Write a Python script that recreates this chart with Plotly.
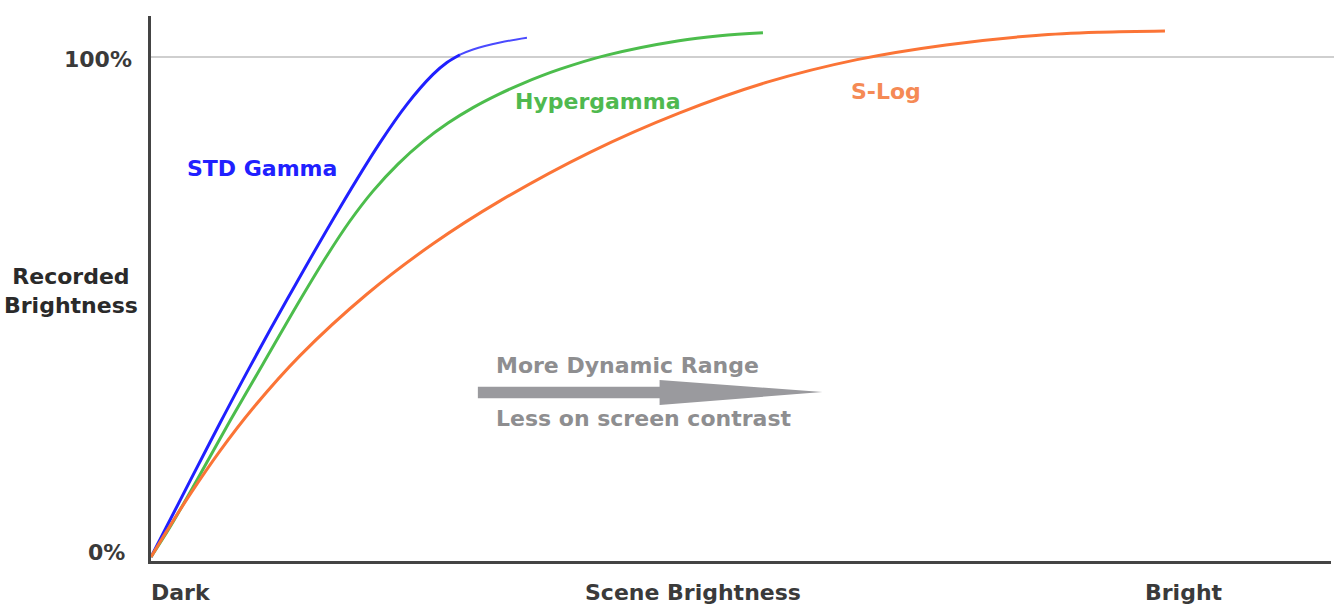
import plotly.graph_objects as go

# Scene brightness (0 = Dark, 100 = right end of axis) and recorded brightness (%)
std_x = [0, 1.36, 3.31, 5.85, 8.39, 11.53, 16.02, 19.41, 21.69, 23.90, 25.08, 26.19, 27.29, 29.58, 31.86]
std_y = [0, 6.24, 15.22, 26.8, 38.08, 51.48, 69.92, 82.88, 90.54, 96.52, 98.9, 100.46, 101.5, 102.9, 103.84]

hyper_x = [0, 1.61, 3.90, 6.69, 9.49, 12.63, 14.92, 16.86, 18.81, 20.93, 23.05, 25.17, 27.29,
           29.41, 31.53, 34.66, 38.64, 44.75, 48.22, 51.86]
hyper_y = [0, 6.0, 15.4, 27.2, 38.6, 51.4, 60.3, 67.2, 73.18, 78.58, 83.08, 86.78, 89.88,
           92.48, 94.74, 97.56, 100.38, 103.26, 104.24, 104.84]

slog_x = [0, 1.36, 3.31, 5.85, 8.64, 12.63, 18.31, 23.90, 29.58, 37.20, 44.75, 52.29, 59.83,
          67.37, 75.0, 80.42, 85.93]
slog_y = [0, 5.28, 12.54, 21.24, 29.76, 40.28, 52.6, 62.64, 71.22, 80.94, 88.78, 95.02, 99.48,
          102.42, 104.32, 104.96, 105.22]

series_names = ["STD Gamma", "Hypergamma", "S-Log"]
y_tick_vals = [100, 0]
y_tick_text = ["100%", "0%"]
x_labels = ["Dark", "Scene Brightness", "Bright"]
y_title = "Recorded<br>Brightness"
arrow_texts = ["More Dynamic Range", "Less on screen contrast"]

FONT = "DejaVu Sans"
FS = 22
DARK = "#3a3a3a"
BLUE = "#2020ff"
GREEN = "#4cbd4c"
ORANGE = "#fb7436"

fig = go.Figure()
knee = 11  # blue line gets thinner after the shoulder
fig.add_trace(go.Scatter(x=std_x[:knee + 1], y=std_y[:knee + 1], mode="lines", name=series_names[0],
                         line=dict(color=BLUE, width=3, shape="spline", smoothing=1.0), hoverinfo="skip"))
fig.add_trace(go.Scatter(x=std_x[knee:], y=std_y[knee:], mode="lines", name=series_names[0] + " tail",
                         line=dict(color="#4a4aff", width=2, shape="spline", smoothing=1.0), hoverinfo="skip"))
fig.add_trace(go.Scatter(x=hyper_x, y=hyper_y, mode="lines", name=series_names[1],
                         line=dict(color=GREEN, width=3, shape="spline", smoothing=1.0), hoverinfo="skip"))
fig.add_trace(go.Scatter(x=slog_x, y=slog_y, mode="lines", name=series_names[2],
                         line=dict(color=ORANGE, width=3, shape="spline", smoothing=1.0), hoverinfo="skip"))

ann = []
# series labels
ann.append(dict(x=9.4, y=77.8, xref="x", yref="y", text="<b>STD Gamma</b>", showarrow=False,
                font=dict(family=FONT, size=FS, color=BLUE)))
ann.append(dict(x=37.84, y=91.2, xref="x", yref="y", text="<b>Hypergamma</b>", showarrow=False,
                font=dict(family=FONT, size=FS, color="#4fb94f")))
ann.append(dict(x=62.3, y=93.2, xref="x", yref="y", text="<b>S-Log</b>", showarrow=False,
                font=dict(family=FONT, size=FS, color="#f58a55")))
# arrow texts
ann.append(dict(x=29.05, y=38.4, xref="x", yref="y", xanchor="left", text="<b>" + arrow_texts[0] + "</b>",
                showarrow=False, font=dict(family=FONT, size=FS, color="#8e8e90")))
ann.append(dict(x=29.05, y=27.8, xref="x", yref="y", xanchor="left", text="<b>" + arrow_texts[1] + "</b>",
                showarrow=False, font=dict(family=FONT, size=FS, color="#8e8e90")))
# y tick labels
ann.append(dict(x=0, y=y_tick_vals[0], xref="paper", yref="y", xanchor="right", xshift=-17, yshift=-2,
                text="<b>" + y_tick_text[0] + "</b>", showarrow=False,
                font=dict(family=FONT, size=FS, color=DARK)))
ann.append(dict(x=0, y=y_tick_vals[1], xref="paper", yref="y", xanchor="right", xshift=-24, yshift=5,
                text="<b>" + y_tick_text[1] + "</b>", showarrow=False,
                font=dict(family=FONT, size=FS, color=DARK)))
# y title
ann.append(dict(x=0, y=0.5, xref="paper", yref="paper", xanchor="center", xshift=-80, yshift=-2,
                text="<b>" + y_title + "</b>", showarrow=False, align="center",
                font=dict(family=FONT, size=FS, color="#2a2a2a")))
# x labels
for xpos, anchor, label in [(-0.0015, "left", x_labels[0]), (0.459, "center", x_labels[1]),
                            (0.875, "center", x_labels[2])]:
    ann.append(dict(x=xpos, y=0, xref="paper", yref="paper", xanchor=anchor, yanchor="middle", yshift=-31,
                    text="<b>" + label + "</b>", showarrow=False,
                    font=dict(family=FONT, size=FS, color=DARK)))

shapes = [
    # 100% reference line
    dict(type="line", xref="paper", yref="y", x0=0, x1=1.003, y0=100, y1=100,
         line=dict(color="#cfcfcf", width=2), layer="below"),
    # arrow
    dict(type="path", xref="x", yref="y",
         path="M 27.7 34.06 L 43.1 34.06 L 43.1 35.4 L 56.9 33.0 L 43.1 30.4 L 43.1 31.74 L 27.7 31.74 Z",
         fillcolor="#9a9a9e", line=dict(width=0)),
]

fig.update_layout(
    width=1334, height=606,
    margin=dict(l=151, r=3, t=16, b=45),
    paper_bgcolor="white", plot_bgcolor="white",
    showlegend=False,
    annotations=ann, shapes=shapes,
    xaxis=dict(range=[0, 100], showgrid=False, zeroline=False, showticklabels=False, ticks="",
               showline=True, linecolor="#444444", linewidth=3),
    yaxis=dict(range=[-0.8, 108.2], showgrid=False, zeroline=False, showticklabels=False, ticks="",
               showline=True, linecolor="#444444", linewidth=3),
)

fig.write_html("out.html", config={"displayModeBar": False},
               post_script="document.body.style.margin='0px';document.body.style.overflow='hidden';")
